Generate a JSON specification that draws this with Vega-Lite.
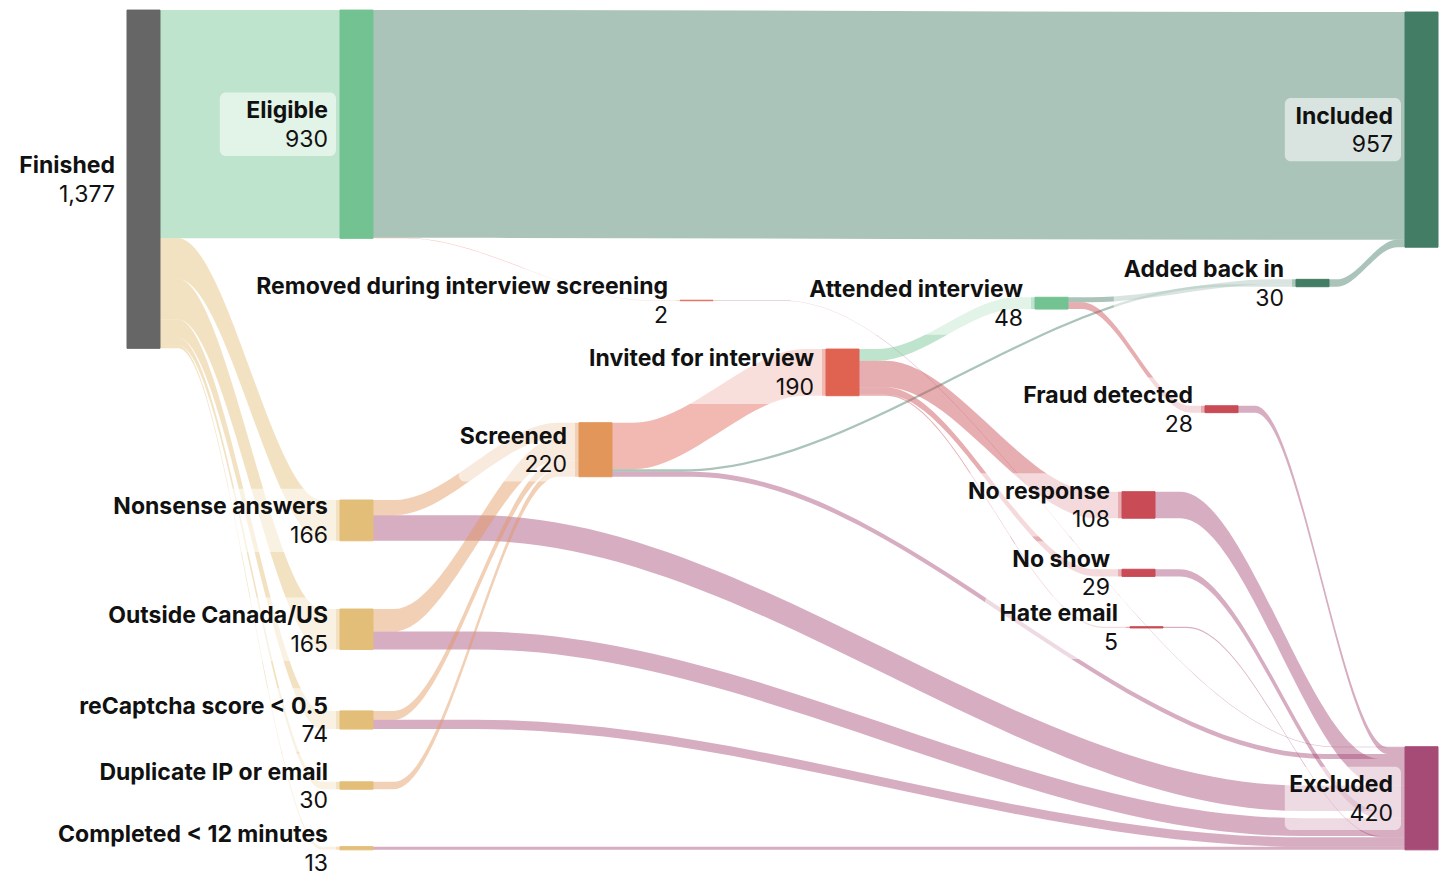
{
  "$schema": "https://vega.github.io/schema/vega-lite/v6.json",
  "width": 1456,
  "height": 882,
  "padding": 0,
  "autosize": {"type": "fit", "contains": "padding"},
  "background": "white",
  "config": {"view": {"stroke": null}},
  "datasets": {
    "nodes": [
      {"name": "Finished", "x0": 127, "x1": 160, "y0": 41, "y1": 1419, "value": 1377},
      {"name": "Eligible", "x0": 340, "x1": 373, "y0": 41, "y1": 971, "value": 930},
      {"name": "Nonsense answers", "x0": 340, "x1": 373, "y0": 2037, "y1": 2203, "value": 166},
      {"name": "Outside Canada/US", "x0": 340, "x1": 373, "y0": 2481, "y1": 2646, "value": 165},
      {"name": "reCaptcha score < 0.5", "x0": 340, "x1": 373, "y0": 2896, "y1": 2970, "value": 74},
      {"name": "Duplicate IP or email", "x0": 340, "x1": 373, "y0": 3185, "y1": 3215, "value": 30},
      {"name": "Completed < 12 minutes", "x0": 340, "x1": 373, "y0": 3449, "y1": 3462, "value": 13},
      {"name": "Screened", "x0": 579, "x1": 612, "y0": 1722, "y1": 1942, "value": 220},
      {"name": "Removed during interview screening", "x0": 680, "x1": 713, "y0": 1223, "y1": 1225, "value": 2},
      {"name": "Invited for interview", "x0": 826, "x1": 859, "y0": 1422, "y1": 1612, "value": 190},
      {"name": "Attended interview", "x0": 1035, "x1": 1068, "y0": 1211, "y1": 1259, "value": 48},
      {"name": "No response", "x0": 1122, "x1": 1155, "y0": 2003, "y1": 2111, "value": 108},
      {"name": "No show", "x0": 1122, "x1": 1155, "y0": 2319, "y1": 2348, "value": 29},
      {"name": "Hate email", "x0": 1130, "x1": 1163, "y0": 2553, "y1": 2558, "value": 5},
      {"name": "Fraud detected", "x0": 1205, "x1": 1238, "y0": 1653, "y1": 1681, "value": 28},
      {"name": "Added back in", "x0": 1296, "x1": 1329, "y0": 1138, "y1": 1168, "value": 30},
      {"name": "Included", "x0": 1405, "x1": 1438, "y0": 49, "y1": 1007, "value": 957},
      {"name": "Excluded", "x0": 1405, "x1": 1438, "y0": 3042, "y1": 3462, "value": 420}
    ],
    "links": [
      {"link": "L01", "tgt": "Eligible", "x": 160, "top": 41, "bot": 971},
      {"link": "L01", "tgt": "Eligible", "x": 178, "top": 41, "bot": 971},
      {"link": "L01", "tgt": "Eligible", "x": 322, "top": 41, "bot": 971},
      {"link": "L01", "tgt": "Eligible", "x": 340, "top": 41, "bot": 971},
      {"link": "L02", "tgt": "Nonsense answers", "x": 160, "top": 971, "bot": 1137},
      {"link": "L02", "tgt": "Nonsense answers", "x": 178, "top": 971, "bot": 1137},
      {"link": "L02", "tgt": "Nonsense answers", "x": 322, "top": 2037, "bot": 2203},
      {"link": "L02", "tgt": "Nonsense answers", "x": 340, "top": 2037, "bot": 2203},
      {"link": "L03", "tgt": "Outside Canada/US", "x": 160, "top": 1137, "bot": 1302},
      {"link": "L03", "tgt": "Outside Canada/US", "x": 178, "top": 1137, "bot": 1302},
      {"link": "L03", "tgt": "Outside Canada/US", "x": 322, "top": 2481, "bot": 2646},
      {"link": "L03", "tgt": "Outside Canada/US", "x": 340, "top": 2481, "bot": 2646},
      {"link": "L04", "tgt": "reCaptcha score < 0.5", "x": 160, "top": 1302, "bot": 1376},
      {"link": "L04", "tgt": "reCaptcha score < 0.5", "x": 178, "top": 1302, "bot": 1376},
      {"link": "L04", "tgt": "reCaptcha score < 0.5", "x": 322, "top": 2896, "bot": 2970},
      {"link": "L04", "tgt": "reCaptcha score < 0.5", "x": 340, "top": 2896, "bot": 2970},
      {"link": "L05", "tgt": "Duplicate IP or email", "x": 160, "top": 1376, "bot": 1406},
      {"link": "L05", "tgt": "Duplicate IP or email", "x": 178, "top": 1376, "bot": 1406},
      {"link": "L05", "tgt": "Duplicate IP or email", "x": 322, "top": 3185, "bot": 3215},
      {"link": "L05", "tgt": "Duplicate IP or email", "x": 340, "top": 3185, "bot": 3215},
      {"link": "L06", "tgt": "Completed < 12 minutes", "x": 160, "top": 1406, "bot": 1419},
      {"link": "L06", "tgt": "Completed < 12 minutes", "x": 178, "top": 1406, "bot": 1419},
      {"link": "L06", "tgt": "Completed < 12 minutes", "x": 322, "top": 3449, "bot": 3462},
      {"link": "L06", "tgt": "Completed < 12 minutes", "x": 340, "top": 3449, "bot": 3462},
      {"link": "L07", "tgt": "Included", "x": 373, "top": 41, "bot": 969},
      {"link": "L07", "tgt": "Included", "x": 476, "top": 41, "bot": 969},
      {"link": "L07", "tgt": "Included", "x": 1302, "top": 49, "bot": 977},
      {"link": "L07", "tgt": "Included", "x": 1405, "top": 49, "bot": 977},
      {"link": "L08", "tgt": "Removed during interview screening", "x": 373, "top": 969, "bot": 971},
      {"link": "L08", "tgt": "Removed during interview screening", "x": 404, "top": 969, "bot": 971},
      {"link": "L08", "tgt": "Removed during interview screening", "x": 649, "top": 1223, "bot": 1225},
      {"link": "L08", "tgt": "Removed during interview screening", "x": 680, "top": 1223, "bot": 1225},
      {"link": "L09", "tgt": "Screened", "x": 373, "top": 2037, "bot": 2099},
      {"link": "L09", "tgt": "Screened", "x": 394, "top": 2037, "bot": 2099},
      {"link": "L09", "tgt": "Screened", "x": 558, "top": 1722, "bot": 1784},
      {"link": "L09", "tgt": "Screened", "x": 579, "top": 1722, "bot": 1784},
      {"link": "L10", "tgt": "Excluded", "x": 373, "top": 2099, "bot": 2203},
      {"link": "L10", "tgt": "Excluded", "x": 476, "top": 2099, "bot": 2203},
      {"link": "L10", "tgt": "Excluded", "x": 1302, "top": 3200, "bot": 3304},
      {"link": "L10", "tgt": "Excluded", "x": 1405, "top": 3200, "bot": 3304},
      {"link": "L11", "tgt": "Screened", "x": 373, "top": 2481, "bot": 2573},
      {"link": "L11", "tgt": "Screened", "x": 394, "top": 2481, "bot": 2573},
      {"link": "L11", "tgt": "Screened", "x": 558, "top": 1784, "bot": 1876},
      {"link": "L11", "tgt": "Screened", "x": 579, "top": 1784, "bot": 1876},
      {"link": "L12", "tgt": "Excluded", "x": 373, "top": 2573, "bot": 2646},
      {"link": "L12", "tgt": "Excluded", "x": 476, "top": 2573, "bot": 2646},
      {"link": "L12", "tgt": "Excluded", "x": 1302, "top": 3333, "bot": 3406},
      {"link": "L12", "tgt": "Excluded", "x": 1405, "top": 3333, "bot": 3406},
      {"link": "L13", "tgt": "Screened", "x": 373, "top": 2896, "bot": 2932},
      {"link": "L13", "tgt": "Screened", "x": 394, "top": 2896, "bot": 2932},
      {"link": "L13", "tgt": "Screened", "x": 558, "top": 1876, "bot": 1912},
      {"link": "L13", "tgt": "Screened", "x": 579, "top": 1876, "bot": 1912},
      {"link": "L14", "tgt": "Excluded", "x": 373, "top": 2932, "bot": 2970},
      {"link": "L14", "tgt": "Excluded", "x": 476, "top": 2932, "bot": 2970},
      {"link": "L14", "tgt": "Excluded", "x": 1302, "top": 3411, "bot": 3449},
      {"link": "L14", "tgt": "Excluded", "x": 1405, "top": 3411, "bot": 3449},
      {"link": "L15", "tgt": "Screened", "x": 373, "top": 3185, "bot": 3215},
      {"link": "L15", "tgt": "Screened", "x": 394, "top": 3185, "bot": 3215},
      {"link": "L15", "tgt": "Screened", "x": 558, "top": 1912, "bot": 1942},
      {"link": "L15", "tgt": "Screened", "x": 579, "top": 1912, "bot": 1942},
      {"link": "L16", "tgt": "Excluded", "x": 373, "top": 3449, "bot": 3462},
      {"link": "L16", "tgt": "Excluded", "x": 476, "top": 3449, "bot": 3462},
      {"link": "L16", "tgt": "Excluded", "x": 1302, "top": 3449, "bot": 3462},
      {"link": "L16", "tgt": "Excluded", "x": 1405, "top": 3449, "bot": 3462},
      {"link": "L17", "tgt": "Invited for interview", "x": 612, "top": 1722, "bot": 1912},
      {"link": "L17", "tgt": "Invited for interview", "x": 633, "top": 1722, "bot": 1912},
      {"link": "L17", "tgt": "Invited for interview", "x": 805, "top": 1422, "bot": 1612},
      {"link": "L17", "tgt": "Invited for interview", "x": 826, "top": 1422, "bot": 1612},
      {"link": "L18", "tgt": "Added back in", "x": 612, "top": 1912, "bot": 1922},
      {"link": "L18", "tgt": "Added back in", "x": 680, "top": 1912, "bot": 1922},
      {"link": "L18", "tgt": "Added back in", "x": 1228, "top": 1158, "bot": 1168},
      {"link": "L18", "tgt": "Added back in", "x": 1296, "top": 1158, "bot": 1168},
      {"link": "L19", "tgt": "Excluded", "x": 612, "top": 1922, "bot": 1942},
      {"link": "L19", "tgt": "Excluded", "x": 691, "top": 1922, "bot": 1942},
      {"link": "L19", "tgt": "Excluded", "x": 1326, "top": 3072, "bot": 3092},
      {"link": "L19", "tgt": "Excluded", "x": 1405, "top": 3072, "bot": 3092},
      {"link": "L20", "tgt": "Excluded", "x": 713, "top": 1223, "bot": 1225},
      {"link": "L20", "tgt": "Excluded", "x": 782, "top": 1223, "bot": 1225},
      {"link": "L20", "tgt": "Excluded", "x": 1336, "top": 3042, "bot": 3044},
      {"link": "L20", "tgt": "Excluded", "x": 1405, "top": 3042, "bot": 3044},
      {"link": "L21", "tgt": "Attended interview", "x": 859, "top": 1422, "bot": 1470},
      {"link": "L21", "tgt": "Attended interview", "x": 877, "top": 1422, "bot": 1470},
      {"link": "L21", "tgt": "Attended interview", "x": 1017, "top": 1211, "bot": 1259},
      {"link": "L21", "tgt": "Attended interview", "x": 1035, "top": 1211, "bot": 1259},
      {"link": "L22", "tgt": "No response", "x": 859, "top": 1470, "bot": 1578},
      {"link": "L22", "tgt": "No response", "x": 885, "top": 1470, "bot": 1578},
      {"link": "L22", "tgt": "No response", "x": 1096, "top": 2003, "bot": 2111},
      {"link": "L22", "tgt": "No response", "x": 1122, "top": 2003, "bot": 2111},
      {"link": "L23", "tgt": "No show", "x": 859, "top": 1578, "bot": 1607},
      {"link": "L23", "tgt": "No show", "x": 885, "top": 1578, "bot": 1607},
      {"link": "L23", "tgt": "No show", "x": 1096, "top": 2319, "bot": 2348},
      {"link": "L23", "tgt": "No show", "x": 1122, "top": 2319, "bot": 2348},
      {"link": "L24", "tgt": "Hate email", "x": 859, "top": 1607, "bot": 1612},
      {"link": "L24", "tgt": "Hate email", "x": 886, "top": 1607, "bot": 1612},
      {"link": "L24", "tgt": "Hate email", "x": 1103, "top": 2553, "bot": 2558},
      {"link": "L24", "tgt": "Hate email", "x": 1130, "top": 2553, "bot": 2558},
      {"link": "L25", "tgt": "Added back in", "x": 1068, "top": 1211, "bot": 1231},
      {"link": "L25", "tgt": "Added back in", "x": 1091, "top": 1211, "bot": 1231},
      {"link": "L25", "tgt": "Added back in", "x": 1273, "top": 1138, "bot": 1158},
      {"link": "L25", "tgt": "Added back in", "x": 1296, "top": 1138, "bot": 1158},
      {"link": "L26", "tgt": "Fraud detected", "x": 1068, "top": 1231, "bot": 1259},
      {"link": "L26", "tgt": "Fraud detected", "x": 1082, "top": 1231, "bot": 1259},
      {"link": "L26", "tgt": "Fraud detected", "x": 1191, "top": 1653, "bot": 1681},
      {"link": "L26", "tgt": "Fraud detected", "x": 1205, "top": 1653, "bot": 1681},
      {"link": "L27", "tgt": "Included", "x": 1329, "top": 1138, "bot": 1168},
      {"link": "L27", "tgt": "Included", "x": 1337, "top": 1138, "bot": 1168},
      {"link": "L27", "tgt": "Included", "x": 1397, "top": 977, "bot": 1007},
      {"link": "L27", "tgt": "Included", "x": 1405, "top": 977, "bot": 1007},
      {"link": "L28", "tgt": "Excluded", "x": 1238, "top": 1653, "bot": 1681},
      {"link": "L28", "tgt": "Excluded", "x": 1255, "top": 1653, "bot": 1681},
      {"link": "L28", "tgt": "Excluded", "x": 1388, "top": 3044, "bot": 3072},
      {"link": "L28", "tgt": "Excluded", "x": 1405, "top": 3044, "bot": 3072},
      {"link": "L29", "tgt": "Excluded", "x": 1155, "top": 2003, "bot": 2111},
      {"link": "L29", "tgt": "Excluded", "x": 1180, "top": 2003, "bot": 2111},
      {"link": "L29", "tgt": "Excluded", "x": 1380, "top": 3092, "bot": 3200},
      {"link": "L29", "tgt": "Excluded", "x": 1405, "top": 3092, "bot": 3200},
      {"link": "L30", "tgt": "Excluded", "x": 1155, "top": 2319, "bot": 2348},
      {"link": "L30", "tgt": "Excluded", "x": 1180, "top": 2319, "bot": 2348},
      {"link": "L30", "tgt": "Excluded", "x": 1380, "top": 3304, "bot": 3333},
      {"link": "L30", "tgt": "Excluded", "x": 1405, "top": 3304, "bot": 3333},
      {"link": "L31", "tgt": "Excluded", "x": 1163, "top": 2553, "bot": 2558},
      {"link": "L31", "tgt": "Excluded", "x": 1187, "top": 2553, "bot": 2558},
      {"link": "L31", "tgt": "Excluded", "x": 1381, "top": 3406, "bot": 3411},
      {"link": "L31", "tgt": "Excluded", "x": 1405, "top": 3406, "bot": 3411}
    ]
  },
  "layer": [
    {
      "data": {"name": "links"},
      "mark": {"type": "area", "interpolate": "monotone", "opacity": 0.45},
      "encoding": {
        "x": {"field": "x", "type": "quantitative", "scale": {"domain": [0, 1456], "nice": false, "zero": false}, "axis": null},
        "y": {"field": "top", "type": "quantitative", "stack": null, "scale": {"domain": [0, 3593], "nice": false, "zero": false, "reverse": true}, "axis": null},
        "y2": {"field": "bot"},
        "detail": {"field": "link"},
        "color": {
          "field": "tgt", "type": "nominal", "legend": null,
          "scale": {
            "domain": ["Finished", "Eligible", "Nonsense answers", "Outside Canada/US", "reCaptcha score < 0.5", "Duplicate IP or email", "Completed < 12 minutes", "Screened", "Removed during interview screening", "Invited for interview", "Attended interview", "No response", "No show", "Hate email", "Fraud detected", "Added back in", "Included", "Excluded"],
            "range": ["#666666", "#72c391", "#e2be78", "#e2be78", "#e2be78", "#e2be78", "#e2be78", "#e3965a", "#e8705f", "#e06352", "#72c391", "#c94b55", "#c94b55", "#c94b55", "#c94b55", "#437d66", "#437d66", "#a64a76"]
          }
        }
      }
    },
    {
      "data": {"name": "nodes"},
      "mark": {"type": "rect", "strokeWidth": 1},
      "encoding": {
        "x": {"field": "x0", "type": "quantitative"},
        "x2": {"field": "x1"},
        "y": {"field": "y0", "type": "quantitative"},
        "y2": {"field": "y1"},
        "color": {"field": "name", "type": "nominal", "legend": null},
        "stroke": {
          "field": "name", "type": "nominal", "legend": null,
          "scale": {
            "domain": ["Finished", "Eligible", "Nonsense answers", "Outside Canada/US", "reCaptcha score < 0.5", "Duplicate IP or email", "Completed < 12 minutes", "Screened", "Removed during interview screening", "Invited for interview", "Attended interview", "No response", "No show", "Hate email", "Fraud detected", "Added back in", "Included", "Excluded"],
            "range": ["#666666", "#72c391", "#e2be78", "#e2be78", "#e2be78", "#e2be78", "#e2be78", "#e3965a", "#e8705f", "#e06352", "#72c391", "#c94b55", "#c94b55", "#c94b55", "#c94b55", "#437d66", "#437d66", "#a64a76"]
          }
        }
      }
    },
    {
      "data": {"name": "nodes"},
      "transform": [
        {"calculate": "(datum.y0 + datum.y1) / 2", "as": "ym"},
        {"calculate": "max(length(datum.name) * 12.4, length(format(datum.value, ',')) * 14)", "as": "bw"},
        {"calculate": "datum.x0 - 21 - datum.bw", "as": "bx"},
        {"calculate": "datum.x0 - 4", "as": "bx2"},
        {"calculate": "datum.ym - 129", "as": "by"},
        {"calculate": "datum.ym + 129", "as": "by2"}
      ],
      "mark": {"type": "rect", "fill": "white", "opacity": 0.55, "cornerRadius": 6},
      "encoding": {
        "x": {"field": "bx", "type": "quantitative"},
        "x2": {"field": "bx2"},
        "y": {"field": "by", "type": "quantitative"},
        "y2": {"field": "by2"}
      }
    },
    {
      "data": {"name": "nodes"},
      "transform": [{"calculate": "(datum.y0 + datum.y1) / 2", "as": "ym"}],
      "mark": {"type": "text", "align": "right", "baseline": "alphabetic", "dx": -12, "dy": -6, "font": "Inter", "fontSize": 23, "fontWeight": 700, "color": "#111111"},
      "encoding": {
        "x": {"field": "x0", "type": "quantitative"},
        "y": {"field": "ym", "type": "quantitative"},
        "text": {"field": "name"}
      }
    },
    {
      "data": {"name": "nodes"},
      "transform": [{"calculate": "(datum.y0 + datum.y1) / 2", "as": "ym"}],
      "mark": {"type": "text", "align": "right", "baseline": "alphabetic", "dx": -12, "dy": 22.5, "font": "Inter", "fontSize": 23, "fontWeight": 400, "color": "#111111"},
      "encoding": {
        "x": {"field": "x0", "type": "quantitative"},
        "y": {"field": "ym", "type": "quantitative"},
        "text": {"field": "value", "type": "quantitative", "format": ","}
      }
    }
  ]
}
